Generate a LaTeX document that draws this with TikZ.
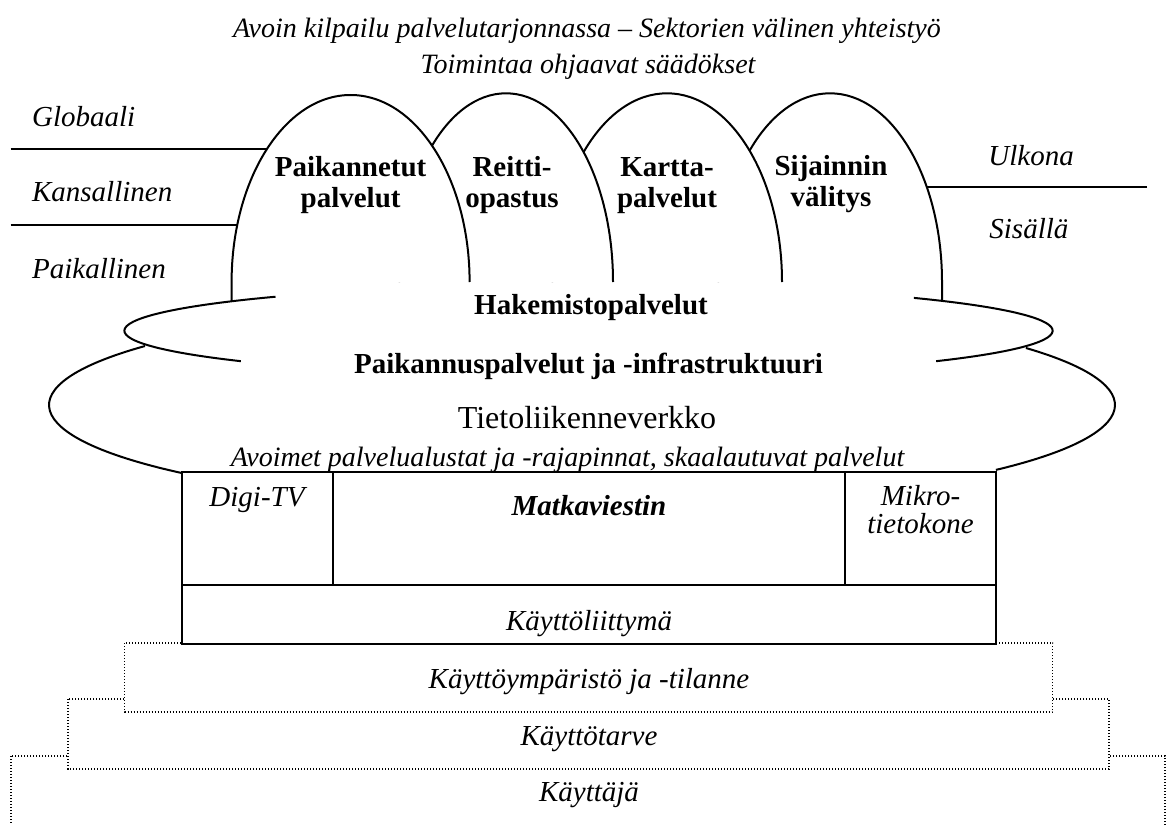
\documentclass[tikz,border=0pt]{standalone}
\usepackage{fontspec}
\setmainfont{Liberation Serif}
\begin{document}
\begin{tikzpicture}[x=0.5pt,y=-0.5pt,
  edge/.style={line width=1pt},
  layerbox/.style={fill=white,draw,line width=0.6pt,dash pattern=on 0.6pt off 0.9pt},
  itxt/.style={inner sep=0pt,anchor=base,font=\fontsize{14.5}{15.5}\selectfont\itshape},
  stxt/.style={inner sep=0pt,anchor=base,font=\fontsize{14}{15}\selectfont\itshape},
  btxt/.style={inner sep=0pt,anchor=base,align=center,font=\fontsize{14.5}{15.5}\selectfont\bfseries},
  rtxt/.style={inner sep=0pt,anchor=base,font=\fontsize{16}{18}\selectfont}]

\useasboundingbox (0,0) rectangle (1166,824);

% user layers, widest at the bottom
\draw[layerbox] (11,756) rectangle (1165,860);
\draw[layerbox] (68,699) rectangle (1109,769);
\draw[layerbox] (124.7,643) rectangle (1052.7,712);

% terminal / user interface block
\draw[edge,fill=white] (181.7,472) rectangle (996,644);
\draw[edge] (181.7,585) -- (996,585);
\draw[edge] (333,472) -- (333,585);
\draw[edge] (845,472) -- (845,585);

% scale separators on both sides
\draw[edge] (10.7,149.3) -- (300,149.3);
\draw[edge] (10.7,225) -- (300,225);
\draw[edge] (1147,186.7) -- (900,186.7);

% service arches, drawn right to left so each one overlaps the next
\fill[white] (718,282) arc[start angle=180,end angle=0,x radius=56pt,y radius=94.35pt] -- cycle;
\draw[edge] (718,282) arc[start angle=180,end angle=0,x radius=56pt,y radius=94.35pt] -- (942,301);
\fill[white] (552,282) arc[start angle=180,end angle=0,x radius=57.5pt,y radius=94.35pt] -- cycle;
\draw[edge] (552,282) arc[start angle=180,end angle=0,x radius=57.5pt,y radius=94.35pt];
\fill[white] (399,282) arc[start angle=180,end angle=0,x radius=53.5pt,y radius=94.35pt] -- cycle;
\draw[edge] (399,282) arc[start angle=180,end angle=0,x radius=53.5pt,y radius=94.35pt];
\fill[white] (231.6,282) arc[start angle=180,end angle=0,x radius=59.5pt,y radius=93.5pt] -- cycle;
\draw[edge] (231.6,301) -- (231.6,282) arc[start angle=180,end angle=0,x radius=59.5pt,y radius=93.5pt];

% upper cloud band (visible outer ends)
\draw[edge] (588.5,330.7) ++(132.4:232.1pt and 23pt)
  arc[start angle=132.4,end angle=221.5,x radius=232.1pt,y radius=23pt];
\draw[edge] (588.5,330.7) ++(45.5:232.1pt and 23pt)
  arc[start angle=45.5,end angle=-41.5,x radius=232.1pt,y radius=23pt];

% lower cloud band
\draw[edge] (582,405) ++(145.08:266.5pt and 51.5pt)
  arc[start angle=145.08,end angle=221.33,x radius=266.5pt,y radius=51.5pt];
\draw[edge] (582,405) ++(33.6:266.5pt and 51.5pt)
  arc[start angle=33.6,end angle=-39.05,x radius=266.5pt,y radius=51.5pt];

% headings
\node[stxt] (kilpailu) at (587,38) {Avoin kilpailu palvelutarjonnassa – Sektorien välinen yhteistyö};
\node[stxt] (saadokset) at (588,74) {Toimintaa ohjaavat säädökset};

% scale labels
\node[itxt,anchor=base west] (globaali) at (31.7,126.7) {Globaali};
\node[itxt,anchor=base west] (kansallinen) at (31.7,201.7) {Kansallinen};
\node[itxt,anchor=base west] (paikallinen) at (31.7,278) {Paikallinen};
\node[itxt,anchor=base west] (ulkona) at (988,165) {Ulkona};
\node[itxt,anchor=base west] (sisalla) at (989,238.3) {Sisällä};

% arch labels (base = last line)
\node[btxt] (paikannetut) at (350.6,207.5) {Paikannetut\\palvelut};
\node[btxt] (reitti) at (512,207.5) {Reitti-\\opastus};
\node[btxt] (kartta) at (667,207.5) {Kartta-\\palvelut};
\node[btxt] (sijainnin) at (831,206) {Sijainnin\\välitys};

% band labels
\node[btxt] (hakemisto) at (591,314) {Hakemistopalvelut};
\node[btxt] (paikannus) at (588.5,373) {Paikannuspalvelut ja -infrastruktuuri};
\node[rtxt] (tietoliikenne) at (587,428) {Tietoliikenneverkko};
\node[stxt] (avoimet) at (567.5,466.7) {Avoimet palvelualustat ja -rajapinnat, skaalautuvat palvelut};

% terminal labels
\node[itxt] (digitv) at (257,506) {Digi-TV};
\node[itxt,font=\fontsize{14.5}{15.5}\selectfont\bfseries\itshape] (matka) at (589,515.7) {Matkaviestin};
\node[itxt,align=center,font=\fontsize{14.5}{14}\selectfont\itshape] (mikro) at (920.5,533) {Mikro-\\tietokone};
\node[itxt] (kali) at (589,630) {Käyttöliittymä};

% layer labels
\node[itxt] (ymparisto) at (589,688) {Käyttöympäristö ja -tilanne};
\node[itxt] (tarve) at (589,745) {Käyttötarve};
\node[itxt] (kayttaja) at (589,801) {Käyttäjä};
\end{tikzpicture}
\end{document}
